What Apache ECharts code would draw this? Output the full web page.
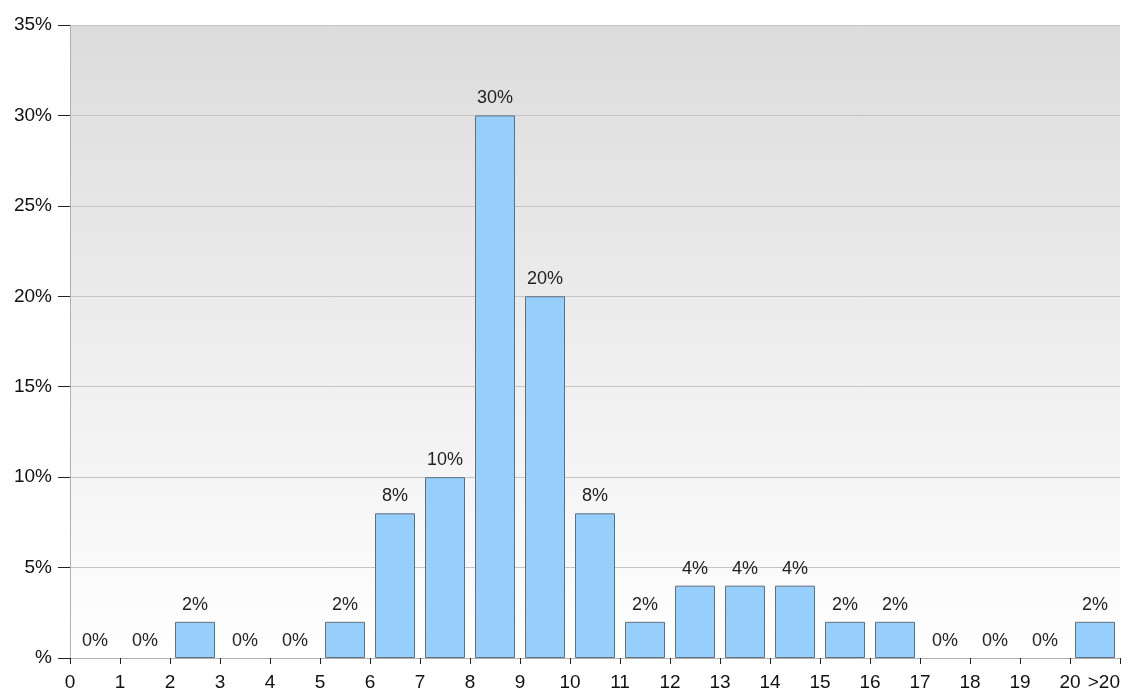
<!DOCTYPE html>
<html>
<head>
<meta charset="utf-8">
<script src="https://cdn.jsdelivr.net/npm/echarts@6/dist/echarts.min.js"></script>
<style>
  html, body { margin: 0; padding: 0; background: #fff; }
  #chart { width: 1132px; height: 688px; }
</style>
</head>
<body>
<div id="chart"></div>
<script>
// bins: 0-1, 1-2, ... 19-20, >20
var binStarts = [0, 1, 2, 3, 4, 5, 6, 7, 8, 9, 10, 11, 12, 13, 14, 15, 16, 17, 18, 19, 20];
var percents = [0, 0, 2, 0, 0, 2, 8, 10, 30, 20, 8, 2, 4, 4, 4, 2, 2, 0, 0, 0, 2];
var xTickLabels = ["0", "1", "2", "3", "4", "5", "6", "7", "8", "9", "10",
  "11", "12", "13", "14", "15", "16", "17", "18", "19", "20", ">20"];

var chart = echarts.init(document.getElementById("chart"));

// bar sits in the middle of its bin; empty bins get no outline
var barData = binStarts.map(function (s, i) {
  var item = { value: [s + 0.5, percents[i]] };
  if (percents[i] === 0) item.itemStyle = { borderWidth: 0 };
  return item;
});

var option = {
  animation: false,
  textStyle: { fontFamily: "Liberation Sans, Arial, sans-serif" },
  grid: {
    left: 70, right: 12, top: 25, bottom: 30,
    outerBoundsMode: "none",
    show: true,
    borderWidth: 0,
    backgroundColor: new echarts.graphic.LinearGradient(0, 0, 0, 1, [
      { offset: 0, color: "#dcdcdc" },
      { offset: 1, color: "#ffffff" }
    ])
  },
  xAxis: {
    type: "value",
    min: 0, max: 21, interval: 1,
    axisLine: { show: true, lineStyle: { color: "#b0b0b0" } },
    axisTick: { show: true, length: 6, lineStyle: { color: "#222" } },
    splitLine: { show: false },
    axisLabel: {
      margin: 15,
      fontSize: 19,
      color: "#111",
      alignMaxLabel: "right",
      formatter: function (v) { return xTickLabels[Math.round(v)]; }
    }
  },
  yAxis: {
    type: "value",
    min: 0, max: 35, interval: 5,
    axisLine: { show: true, lineStyle: { color: "#b0b0b0" } },
    axisTick: { show: true, length: 12, lineStyle: { color: "#222" } },
    splitLine: { show: true, lineStyle: { color: "#c4c4c4" } },
    axisLabel: {
      margin: 18,
      fontSize: 19,
      color: "#111",
      formatter: function (v) { return v === 0 ? "%" : v + "%"; }
    }
  },
  series: [{
    type: "bar",
    data: barData,
    barWidth: 40,
    itemStyle: { color: "#96cefc", borderColor: "#5f6f7e", borderWidth: 1 },
    label: {
      show: true,
      position: "top",
      distance: 8,
      fontSize: 18,
      color: "#222",
      formatter: function (p) { return p.value[1] + "%"; }
    }
  }]
};

chart.setOption(option);
</script>
</body>
</html>
